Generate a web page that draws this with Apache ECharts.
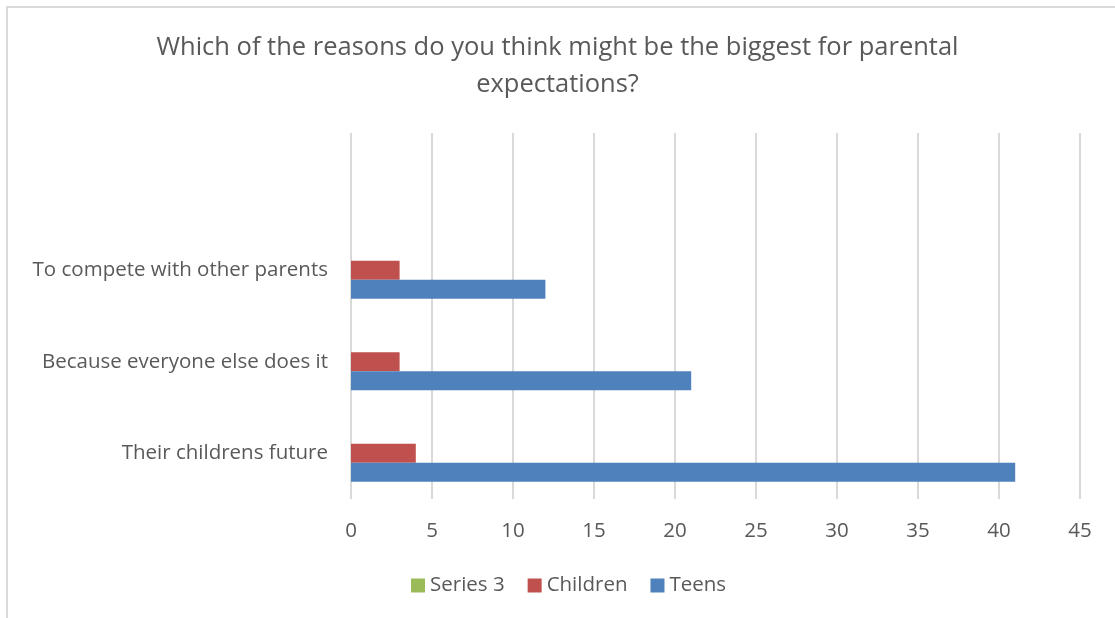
<!DOCTYPE html>
<html>
<head>
<meta charset="utf-8">
<script src="https://cdn.jsdelivr.net/npm/echarts@6/dist/echarts.min.js"></script>
<style>
  html, body { margin: 0; padding: 0; background: #fff; }
  #frame { position: absolute; left: 6px; top: 6px; width: 1120px; height: 620px; border: 2px solid #d9d9d9; box-sizing: border-box; }
  #chart { position: absolute; left: 0; top: 0; width: 1115px; height: 618px; }
</style>
</head>
<body>
<div id="frame"></div>
<div id="chart"></div>
<script>
// категории снизу вверх (верхняя пустая, как в исходном Excel)
var categories = ['Their childrens future', 'Because everyone else does it', 'To compete with other parents', ''];
var teens = [41, 21, 12, null];
var children = [4, 3, 3, null];
var series3 = [0, 0, 0, null];
var xTicks = { min: 0, max: 45, interval: 5 };

var FONT = '"Open Sans", sans-serif';
var TXT = '#595959';

var chart = echarts.init(document.getElementById('chart'));
chart.setOption({
  animation: false,
  title: {
    text: 'Which of the reasons do you think might be the biggest for parental\nexpectations?',
    left: 'center',
    top: 24,
    textStyle: { fontFamily: FONT, fontSize: 25.5, fontWeight: 'normal', color: TXT, lineHeight: 37 }
  },
  legend: {
    data: ['Series 3', 'Children', 'Teens'],
    bottom: 17,
    left: 406,
    icon: 'rect',
    itemWidth: 14,
    itemHeight: 14,
    itemGap: 23,
    textStyle: { fontFamily: FONT, fontSize: 20.5, color: TXT }
  },
  grid: { left: 351, right: 35, top: 133, bottom: 119, containLabel: false },
  xAxis: {
    type: 'value',
    min: xTicks.min,
    max: xTicks.max,
    interval: xTicks.interval,
    axisLine: { show: false },
    axisTick: { show: false },
    axisLabel: { fontFamily: FONT, fontSize: 20.5, color: TXT, margin: 22 },
    splitLine: { lineStyle: { color: '#d9d9d9', width: 2 } }
  },
  yAxis: {
    type: 'category',
    data: categories,
    axisLine: { show: false },
    axisTick: { show: false },
    axisLabel: { fontFamily: FONT, fontSize: 20.5, color: TXT, margin: 23 }
  },
  series: [
    { name: 'Series 3', type: 'bar', data: series3, barGap: '0%', barCategoryGap: '37.7%', itemStyle: { color: '#9bbb59' } },
    { name: 'Children', type: 'bar', data: children, itemStyle: { color: '#c0504d' } },
    { name: 'Teens', type: 'bar', data: teens, itemStyle: { color: '#4f81bd' } }
  ]
});
</script>
</body>
</html>
